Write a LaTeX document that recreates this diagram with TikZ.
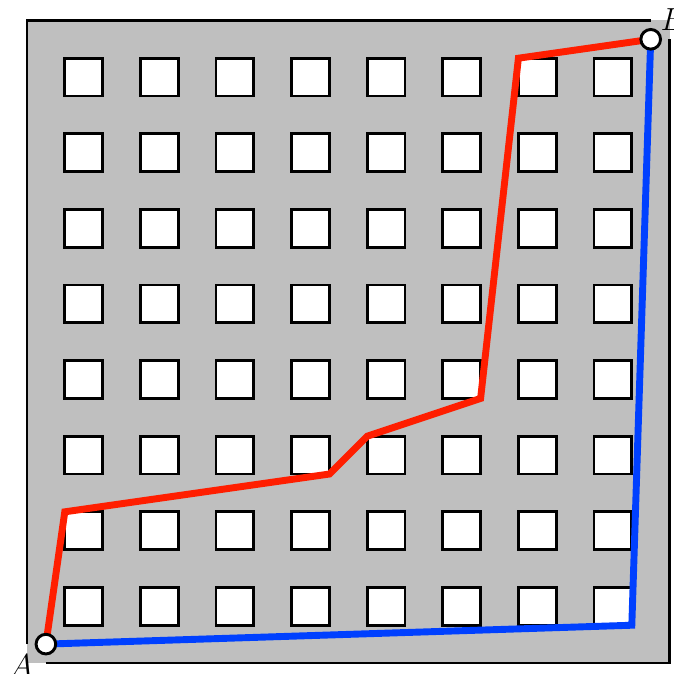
\documentclass[tikz,border=0pt]{standalone}
\usepackage{amsmath}
\usepackage{tikz}
\usetikzlibrary{positioning, calc}
\definecolor{FieldGray}{RGB}{191,191,191}
\definecolor{PathRed}{RGB}{255,30,0}
\definecolor{PathBlue}{RGB}{0,64,255}

\begin{document}
\begin{tikzpicture}[every node/.style={font=\large}]
            \useasboundingbox (-0.357,-0.132) rectangle (8.558,8.77);
            % Field
            \fill[FieldGray] (0,0) rectangle (8.5,8.5);
            \draw[line width=1.1pt] (0,0.25) -- (0,8.5) -- (8.25,8.5);
            \draw[line width=1.1pt] (0.25,0) -- (8.5,0) -- (8.5,8.25);
            
            % Obstacles
            \foreach \i in {0,...,7} {
                \foreach \j in {0,...,7} {
                    \draw[line width=1.1pt, fill=white] (0.5+\i,0.5+\j) rectangle (1+\i,1+\j);
                }
            }
            
            % Corners of the routes
            \coordinate (r1) at (0.5,2);
            \coordinate (r2) at (4,2.5);
            \coordinate (r3) at (4.5,3);
            \coordinate (r4) at (6,3.5);
            \coordinate (r5) at (6.5,8);
            \coordinate (b1) at (8,0.5);
            
            % End points
            \node[circle, inner sep=0pt, minimum size=0.26cm] (A) at (0.25,0.25) {};
            \node[circle, inner sep=0pt, minimum size=0.26cm] (B) at (8.25,8.25) {};
            
            % Routes
            \draw[PathRed, line width=2.6pt, line join=miter] (A.center) -- (r1) -- (r2) -- (r3) -- (r4) -- (r5) -- (B.center);
            \draw[PathBlue, line width=2.6pt, line join=miter] (A.center) -- (b1) -- (B.center);
            
            \draw[line width=1.1pt, fill=white] (A) circle (0.13cm);
            \draw[line width=1.1pt, fill=white] (B) circle (0.13cm);
            
            % Labels
            \node[below left=-0.08cm and -0.05cm of A] (labelA) {$A$};
            \node[above right=-0.1cm and -0.09cm of B] (labelB) {$B$};
        \end{tikzpicture}
\end{document}
